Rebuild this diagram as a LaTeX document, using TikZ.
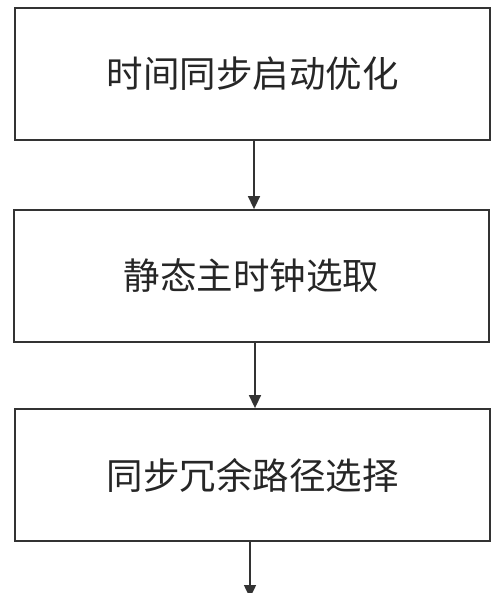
\documentclass[tikz,border=0pt]{standalone}
\usepackage{fontspec}
\newfontfamily\cjk{Noto Sans CJK SC}
\usetikzlibrary{arrows.meta}
\begin{document}
\begin{tikzpicture}[x=1pt,y=-1pt,
  stepbox/.style={draw=black!80,line width=1.8pt,minimum width=475pt,minimum height=132pt,inner sep=0pt,font=\cjk\fontsize{36.5}{40}\selectfont,text=black!85},
  flow/.style={draw=black!80,line width=1.5pt,-{Triangle[length=13pt,width=12pt]}}]
\useasboundingbox (0,0) rectangle (500,593);
\node[stepbox] (a) at (252.5,74) {时间同步启动优化};
\node[stepbox] (b) at (251.5,276) {静态主时钟选取};
\node[stepbox] (c) at (252.5,475) {同步冗余路径选择};
\coordinate (e) at (250,598);
\draw[flow] (a.south -| 254,0) -- (b.north -| 254,0);
\draw[flow] (b.south -| 255,0) -- (c.north -| 255,0);
\draw[flow] (c.south -| 250,0) -- (e);
\end{tikzpicture}
\end{document}
